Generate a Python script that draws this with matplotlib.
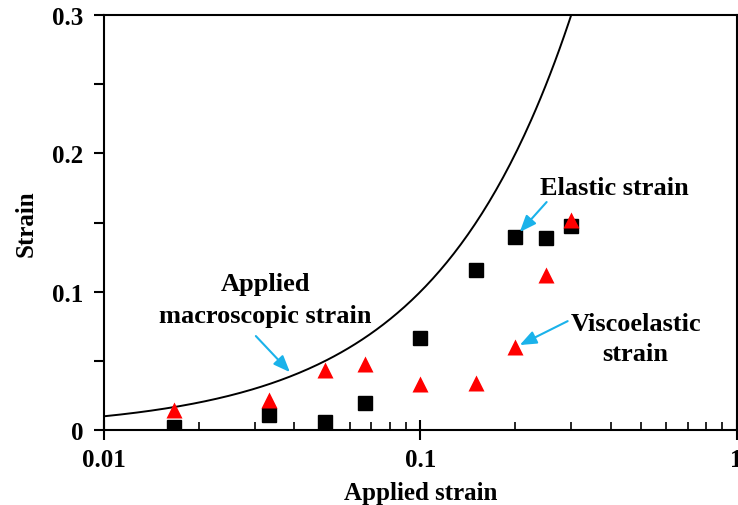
import matplotlib.pyplot as plt
import numpy as np

plt.rcParams['font.family'] = ['Liberation Serif', 'DejaVu Serif']
plt.rcParams['font.weight'] = 'bold'

# applied strain levels
applied = [1 / 60, 1 / 30, 0.05, 1 / 15, 0.1, 0.15, 0.2, 0.25, 0.3]
elastic = [0.002, 0.011, 0.006, 0.0195, 0.0665, 0.1157, 0.1395, 0.139, 0.1475]
viscoelastic = [0.0145, 0.0217, 0.0434, 0.0477, 0.033, 0.034, 0.06, 0.112, 0.152]

# applied macroscopic strain curve (y = x)
line_x = np.logspace(-2, np.log10(0.3), 200)
line_y = line_x

fig = plt.figure(figsize=(7.38, 5.06), dpi=100)
ax = fig.add_axes([0.141, 0.148, 0.857, 0.820])

ax.plot(line_x, line_y, color='black', lw=1.4, zorder=2)
ax.plot(applied, elastic, 's', color='black', ms=10.5, zorder=3)
ax.plot(applied, viscoelastic, '^', color='#ff0000', ms=11, mec='none', zorder=4)

ax.set_xscale('log')
ax.set_xlim(0.01, 1)
ax.set_ylim(0, 0.3)
ax.set_xticks([0.01, 0.1, 1])
ax.set_xticklabels(['0.01', '0.1', '1'])
ax.set_yticks([0, 0.1, 0.2, 0.3])
ax.set_yticklabels(['0', '0.1', '0.2', '0.3'])
ax.set_yticks([0.05, 0.15, 0.25], minor=True)

ax.tick_params(axis='x', which='major', direction='inout', length=14, width=1.5,
               labelsize=18, pad=6)
ax.tick_params(axis='x', which='minor', direction='in', length=6, width=1.2)
ax.tick_params(axis='y', which='both', direction='out', length=7, width=1.5,
               labelsize=18, pad=8)
for s in ax.spines.values():
    s.set_linewidth(1.5)

ax.set_xlabel('Applied strain', fontsize=18, fontweight='bold', labelpad=7)
ax.set_ylabel('Strain', fontsize=18, fontweight='bold', labelpad=10)

# labels
ax.text(0.412, 0.1757, 'Elastic strain', fontsize=19, fontweight='bold',
        ha='center', va='center')
ax.text(0.48, 0.0665, 'Viscoelastic\nstrain', fontsize=19, fontweight='bold',
        ha='center', va='center', multialignment='center', linespacing=1.4)
ax.text(0.0323, 0.0944, 'Applied\nmacroscopic strain', fontsize=19, fontweight='bold',
        ha='center', va='center', multialignment='center', linespacing=1.5)

# arrows
blue = '#1ab2ea'
arrow = dict(arrowstyle='-|>,head_length=1.0,head_width=0.4', color=blue, lw=1.5,
             shrinkA=0, shrinkB=0)
ax.annotate('', xy=(0.2063, 0.1432), xytext=(0.2509, 0.1649), arrowprops=arrow)
ax.annotate('', xy=(0.2063, 0.0615), xytext=(0.2924, 0.0788), arrowprops=arrow)
ax.annotate('', xy=(0.0387, 0.0419), xytext=(0.0302, 0.068), arrowprops=arrow)

fig.savefig('out.png', dpi=100)
